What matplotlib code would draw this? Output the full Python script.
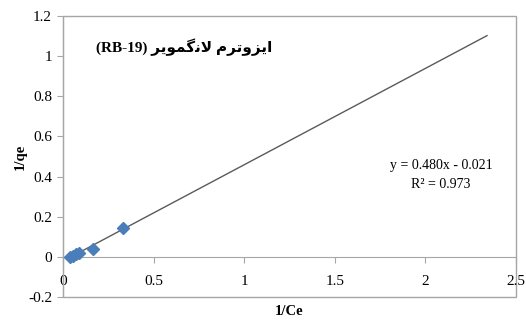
import matplotlib
matplotlib.use("Agg")
from matplotlib import pyplot as plt
from matplotlib.patches import Rectangle
import numpy as np

# data
ce_inv = [0.04, 0.055, 0.07, 0.09, 0.165, 0.33]
qe_inv = [0.0, 0.005, 0.012, 0.02, 0.04, 0.145]
fit_x = [0.05, 2.34]
slope = 0.480
intercept = -0.021
x_ticks = [0, 0.5, 1, 1.5, 2, 2.5]
x_tick_labels = ["0", "0.5", "1", "1.5", "2", "2.5"]
y_ticks = [-0.2, 0, 0.2, 0.4, 0.6, 0.8, 1, 1.2]
y_tick_labels = ["-0.2", "0", "0.2", "0.4", "0.6", "0.8", "1", "1.2"]

# Persian title, written with presentation forms in visual order
# (matplotlib does no arabic shaping) : "ایزوترم لانگمویر (RB-19)"
word1 = "\uFE8D\uFBFE\uFEB0\uFEED\uFE97\uFEAE\uFEE1"          # ایزوترم
word2 = "\uFEFB\uFEE7\uFB94\uFEE4\uFEEE\uFBFE\uFEAE"          # لانگمویر
title = "(RB-19) " + word2[::-1] + " " + word1[::-1]

serif = ["Liberation Serif", "DejaVu Sans"]
plt.rcParams["font.family"] = serif
grey = "#a6a6a6"

fig = plt.figure(figsize=(5.26, 3.2), dpi=100)
ax = fig.add_axes([0.12, 0.072, 0.861, 0.878])

fx = np.array(fit_x)
ax.plot(fx, slope * fx + intercept, color="#5a5a5a", lw=1.0, zorder=2)
ax.plot(ce_inv, qe_inv, "D", color="#4a7ebb", ms=6, mec="#4a7ebb", zorder=3)

ax.set_xlim(0, 2.5)
ax.set_ylim(-0.2, 1.2)
ax.set_xticks(x_ticks)
ax.set_xticklabels(x_tick_labels)
ax.set_yticks(y_ticks)
ax.set_yticklabels(y_tick_labels)

# excel style: x axis crosses at y = 0, box round the plot area
ax.spines["top"].set_visible(False)
ax.spines["right"].set_visible(False)
ax.spines["left"].set_color(grey)
ax.spines["bottom"].set_position(("data", 0))
ax.spines["bottom"].set_color(grey)
ax.add_patch(Rectangle((0, 0), 1, 1, transform=ax.transAxes, fill=False,
                       ec=grey, lw=1.0, clip_on=False, zorder=1))
ax.tick_params(axis="x", direction="out", length=4, pad=9, color=grey,
               labelsize=11)
ax.tick_params(axis="y", direction="out", length=4, pad=4, color=grey,
               labelsize=11)

ax.text(-0.095, 0.5, "1/qe", transform=ax.transAxes, ha="center",
        va="center", rotation=90, fontsize=10.5, fontweight="bold")
ax.text(0.5, -0.075, "1/Ce", transform=ax.transAxes, ha="center",
        va="bottom", fontsize=10.5, fontweight="bold")

ax.text(0.18, 1.045, title, ha="left", va="center", fontsize=11,
        fontweight="bold", family=serif)
ax.text(2.085, 0.453, "y = 0.480x - 0.021", ha="center", va="center",
        fontsize=10)
ax.text(2.085, 0.358, "R\u00b2 = 0.973", ha="center", va="center",
        fontsize=10)

fig.savefig("out.png", dpi=100)
